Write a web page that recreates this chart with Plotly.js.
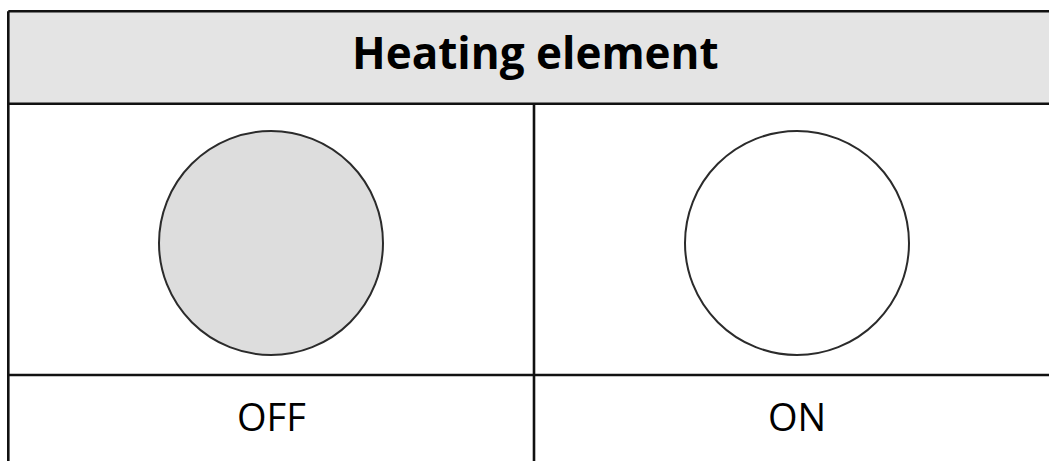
<!DOCTYPE html>
<html>
<head>
<meta charset="utf-8">
<script src="https://cdn.plot.ly/plotly-3.0.1.min.js"></script>
<style>html,body{margin:0;padding:0;background:#fff;}#chart{width:1049px;height:461px;}</style>
</head>
<body>
<div id="chart"></div>
<script>
// Data
const headerTitle = "Heating element";
const states = ["OFF", "ON"];
const stateFills = ["#dddddd", "#ffffff"];

// Layout geometry (pixel-based coordinate system)
const W = 1049, H = 461;
const tableLeft = 8.3, tableTop = 11.3, headerBottom = 103.7, rowDivider = 375, colDivider = 534;
const colCenters = [271, 797];
const circleCy = 243, circleR = 112;
const lineColor = "#111111";

const shapes = [];
shapes.push({type:"rect", xref:"x", yref:"y", x0:tableLeft, x1:W+20, y0:tableTop, y1:headerBottom,
  fillcolor:"#e4e4e4", line:{width:0}, layer:"below"});
const lines = [
  [tableLeft, tableTop, W+20, tableTop],
  [tableLeft, headerBottom, W+20, headerBottom],
  [tableLeft, rowDivider, W+20, rowDivider],
  [tableLeft, tableTop, tableLeft, H+20],
  [colDivider, headerBottom, colDivider, H+20]
];
lines.forEach(l => shapes.push({type:"line", xref:"x", yref:"y", x0:l[0], y0:l[1], x1:l[2], y1:l[3],
  line:{color:lineColor, width:2.6}}));
states.forEach((s, i) => {
  shapes.push({type:"circle", xref:"x", yref:"y",
    x0:colCenters[i]-circleR, x1:colCenters[i]+circleR,
    y0:circleCy-circleR, y1:circleCy+circleR,
    fillcolor:stateFills[i], line:{color:"#2b2b2b", width:2}});
});

const annotations = [{
  x:535, y:52, xref:"x", yref:"y", text:"<b>"+headerTitle+"</b>", showarrow:false,
  xanchor:"center", yanchor:"middle", font:{family:"Open Sans", size:44, color:"#000"}
}];
states.forEach((s, i) => annotations.push({
  x:colCenters[i], y:416, xref:"x", yref:"y", text:s, showarrow:false,
  xanchor:"center", yanchor:"middle", font:{family:"Open Sans", size:38, color:"#000"}
}));

Plotly.newPlot("chart", [{x:[], y:[], type:"scatter", hoverinfo:"skip"}], {
  width:W, height:H,
  margin:{l:0, r:0, t:0, b:0},
  paper_bgcolor:"#fff", plot_bgcolor:"#fff",
  xaxis:{range:[0, W], visible:false, fixedrange:true},
  yaxis:{range:[H, 0], visible:false, fixedrange:true},
  showlegend:false,
  shapes:shapes,
  annotations:annotations
}, {staticPlot:true});
</script>
</body>
</html>
